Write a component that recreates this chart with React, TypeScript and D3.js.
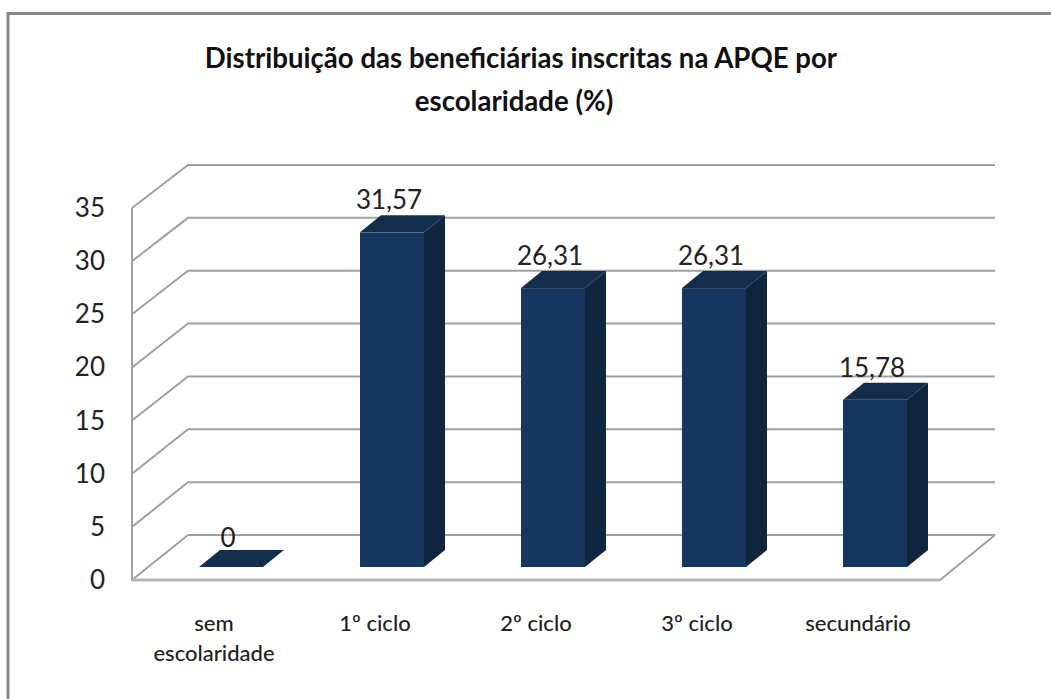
import React from "react";
import * as d3 from "d3";

const titleLines = ["Distribuição das beneficiárias inscritas na APQE por", "escolaridade (%)"];
const titleCenters = [521, 514];
const categories = ["sem escolaridade", "1º ciclo", "2º ciclo", "3º ciclo", "secundário"];
const categoryLines = [["sem", "escolaridade"], ["1º ciclo"], ["2º ciclo"], ["3º ciclo"], ["secundário"]];
const values = [0, 31.57, 26.31, 26.31, 15.78];
const valueLabels = ["0", "31,57", "26,31", "26,31", "15,78"];
const yTicks = [0, 5, 10, 15, 20, 25, 30, 35];

const W = 1051, H = 699;
const font = "Lato, Carlito, sans-serif";
const gridColor = "#a0a0a0";
const front = "#17375e";
const side = "#10263f";
const topFace = "#132d4d";

export default function App() {
  const yFront = d3.scaleLinear().domain([0, 35]).range([580, 208]);
  const yBack = d3.scaleLinear().domain([0, 35]).range([535, 165]);
  const yBar = d3.scaleLinear().domain([0, 35]).range([567, 196]);
  const xBar = d3.scalePoint<string>().domain(categories).range([231, 875]);
  const xL = 132, xB = 188, xR = 995, xFR = 940;
  const bw = 64, dx = 21, dy = 17;
  const line = d3.line();
  return (
    <svg width={W} height={H} viewBox={`0 0 ${W} ${H}`} style={{ position: "fixed", left: 0, top: 0, background: "#fff" }}>
      <rect x={8} y={13.5} width={1100} height={800} fill="#fff" stroke="#878787" strokeWidth={3} />
      <g fontFamily={font} textAnchor="middle" fontSize={27.6} fontWeight={700} fill="#111">
        {titleLines.map((t, i) => (
          <text key={t} x={titleCenters[i]} y={68 + i * 43}>{t}</text>
        ))}
      </g>
      <g fill="none" stroke={gridColor} strokeWidth={2}>
        {yTicks.map((t) => (
          <path key={t} d={line([[xL, yFront(t)], [xB, yBack(t)], [xR, yBack(t)]]) ?? ""} />
        ))}
        <path d={line([[xL, yFront(35)], [xL, yFront(0)], [xFR, yFront(0)], [xR, yBack(0)]]) ?? ""} />
      </g>
      <path d={line([[xL, yFront(0)], [xFR, yFront(0)]]) ?? ""} stroke="#b5b5b5" strokeWidth={3} />
      <g fontFamily={font} fontSize={26} fill="#222" textAnchor="end">
        {yTicks.map((t) => (
          <text key={t} x={105} y={yFront(t) + 9}>{t}</text>
        ))}
      </g>
      {categories.map((c, i) => {
        const cx = xBar(c) as number;
        const x0 = cx - bw / 2, x1 = cx + bw / 2;
        const yT = yBar(values[i]), yB = yBar(0);
        return (
          <g key={c}>
            <path d={line([[x0, yT], [x0 + dx, yT - dy], [x1 + dx, yT - dy], [x1, yT]]) + "Z"} fill={topFace} />
            {values[i] > 0 && (
              <>
                <rect x={x0} y={yT} width={bw} height={yB - yT} fill={front} />
                <path d={line([[x1, yT], [x1 + dx, yT - dy], [x1 + dx, yB - dy], [x1, yB]]) + "Z"} fill={side} />
              </>
            )}
          </g>
        );
      })}
      <g fontFamily={font} fontSize={26} fill="#222" textAnchor="middle">
        {categories.map((c, i) => (
          <text key={c} x={(xBar(c) as number) - 3} y={yBar(values[i]) - dy - 5 + (i === 0 ? 2 : -1)}>{valueLabels[i]}</text>
        ))}
      </g>
      <g fontFamily={font} fontSize={22} fontWeight={500} fill="#222" textAnchor="middle">
        {categories.map((c, i) => (
          <text key={c} x={(xBar(c) as number) - 17}>
            {categoryLines[i].map((l, j) => (
              <tspan key={l} x={(xBar(c) as number) - 17} y={631 + j * 30}>{l}</tspan>
            ))}
          </text>
        ))}
      </g>
    </svg>
  );
}
